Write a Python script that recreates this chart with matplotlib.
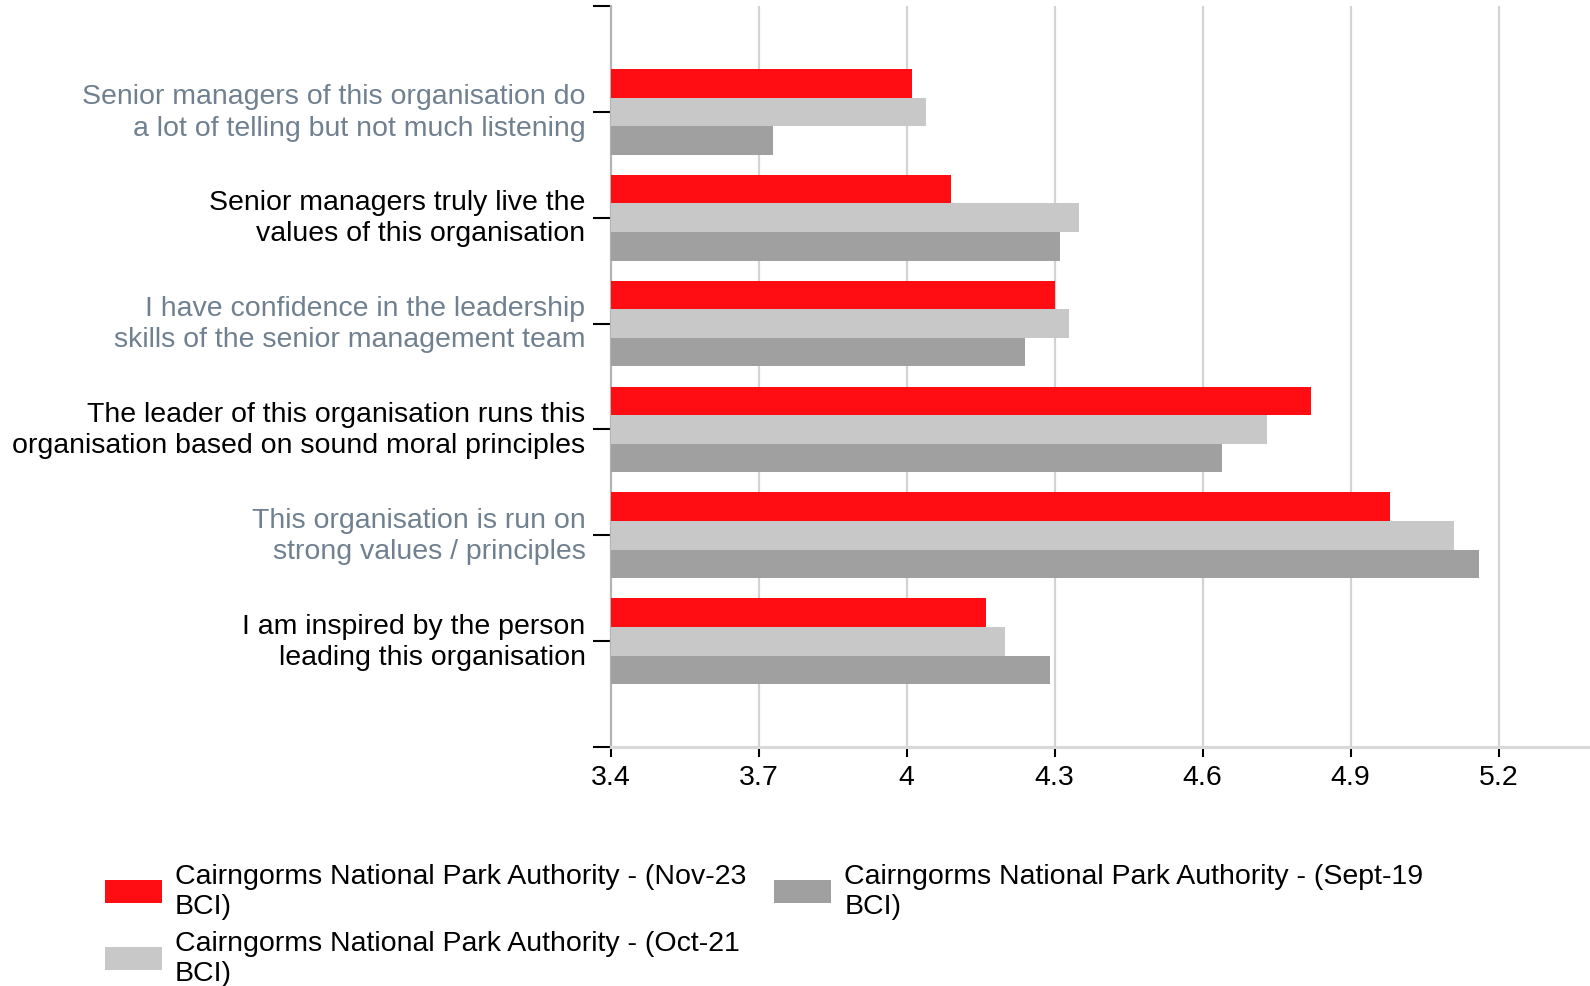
import matplotlib
matplotlib.use("Agg")
import matplotlib.pyplot as plt
from matplotlib.patches import Patch
import numpy as np

plt.rcParams['font.family'] = ['Liberation Sans', 'DejaVu Sans']

categories = [
    "Senior managers of this organisation do\na lot of telling but not much listening",
    "Senior managers truly live the\nvalues of this organisation",
    "I have confidence in the leadership\nskills of the senior management team",
    "The leader of this organisation runs this\norganisation based on sound moral principles",
    "This organisation is run on\nstrong values / principles",
    "I am inspired by the person\nleading this organisation",
]
nov23 = [4.01, 4.09, 4.30, 4.82, 4.98, 4.16]
oct21 = [4.04, 4.35, 4.33, 4.73, 5.11, 4.20]
sep19 = [3.73, 4.31, 4.24, 4.64, 5.16, 4.29]
series_names = [
    "Cairngorms National Park Authority - (Nov-23\nBCI)",
    "Cairngorms National Park Authority - (Oct-21\nBCI)",
    "Cairngorms National Park Authority - (Sept-19\nBCI)",
]
colors = ['#ff0d12', '#c8c8c8', '#a0a0a0']
xticks = [3.4, 3.7, 4.0, 4.3, 4.6, 4.9, 5.2]
xticklabels = ['3.4', '3.7', '4', '4.3', '4.6', '4.9', '5.2']

FS = 20.5

fig = plt.figure(figsize=(15.9, 9.87), dpi=100)
ax = fig.add_axes([0.384, 0.242, 0.616, 0.751])

pos = np.arange(1, len(categories) + 1)
h = 0.27
for vals, off, c in zip([nov23, oct21, sep19], [-h, 0, h], colors):
    ax.barh(pos + off, np.array(vals) - 3.4, left=3.4, height=h, color=c, zorder=3)

ax.set_xlim(3.4, 5.385)
ax.set_ylim(7, 0)

ax.set_xticks(xticks)
ax.set_xticklabels(xticklabels, fontsize=FS)
ax.set_yticks(np.arange(0, 8))
ax.set_yticklabels([''] + categories + [''], fontsize=FS, linespacing=1.27,
                   va='center')
for i, lab in enumerate(ax.get_yticklabels()):
    lab.set_color('#708090' if i % 2 == 1 else '#000000')

ax.tick_params(axis='y', length=13, width=1.5, color='black', pad=5)
ax.tick_params(axis='x', length=7, width=1.5, color='black', pad=5)

for x in xticks[1:]:
    ax.axvline(x, color='#d3d3d3', linewidth=1.6, zorder=1)

for s in ['top', 'right']:
    ax.spines[s].set_visible(False)
ax.spines['left'].set_color('#b4b4b4')
ax.spines['left'].set_linewidth(1.6)
ax.spines['bottom'].set_color('#d9d9d9')
ax.spines['bottom'].set_linewidth(2.2)

handles = [Patch(facecolor=c, edgecolor='none') for c in colors]
leg = fig.legend(handles, series_names, loc='upper left',
                 bbox_to_anchor=(0.057, 0.1387), ncol=2, frameon=False,
                 fontsize=FS, borderpad=0, handlelength=2.0, handleheight=0.88,
                 handletextpad=0.45, labelspacing=0.38, columnspacing=1.0)

fig.savefig('out.png', dpi=100)
